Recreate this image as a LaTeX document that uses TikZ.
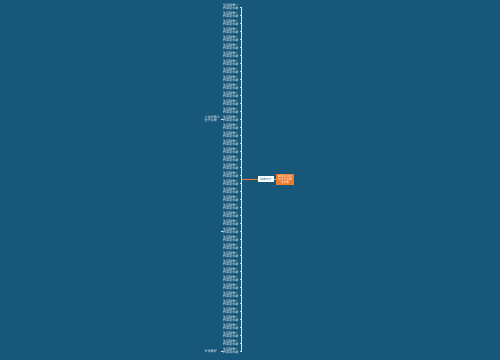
\documentclass[tikz,border=0pt]{standalone}
\usepackage{fontspec}
\newfontfamily\cjk{Noto Sans CJK SC}
\definecolor{bg}{HTML}{175779}
\definecolor{org}{HTML}{EE7B2C}
\definecolor{lineclr}{HTML}{D8E6EE}
\tikzset{
  leaf/.style={anchor=east,inner sep=0.3pt,text=white,font=\cjk\fontsize{3.1}{3.4}\selectfont,align=left,text width=16.5pt},
  subleaf/.style={anchor=east,inner sep=0.3pt,text=white,font=\cjk\fontsize{3.1}{3.4}\selectfont,align=left,text width=16pt},
  link/.style={draw=lineclr,line width=0.6pt},
  rootbox/.style={fill=org,text=white,font=\cjk\fontsize{2.8}{3.3}\selectfont,align=center,minimum width=18pt,minimum height=11pt,inner sep=0.5pt},
  trunkbox/.style={fill=white,text=bg,font=\cjk\fontsize{2.8}{3.2}\selectfont,align=center,minimum width=16pt,minimum height=6pt,inner sep=0.5pt}
}
\begin{document}
\begin{tikzpicture}[x=1pt,y=-1pt]
\fill[bg] (0,0) rectangle (500,360);
\useasboundingbox (0,0) rectangle (500,360);
\node[rootbox] (root) at (285,179.5) {描写生活的\\句子大全精\\选合集};
\node[trunkbox] (trunk) at (266,179) {经典句子};
\coordinate (hub) at (241.5,179);
\draw[draw=org,line width=0.8pt] (trunk.west) -- (hub);
\draw[draw=white,line width=0.5pt] (trunk.east) -- (root.west);
\foreach \i in {0,...,43}{
  \pgfmathsetmacro\yy{7+\i*8}
  \node[leaf] (l\i) at (240,\yy) {生活就像一\\杯茶苦中甜};
  \draw[link] (hub) |- (l\i.east);
}
\node[subleaf] (s1) at (221,119) {人生的意义\\在于过程};
\draw[link] (s1.east) -- (l14.west);
\node[subleaf] (s2) at (221,231) {~~~~};
\draw[link] (s2.east) -- (l28.west);
\node[subleaf] (s3) at (221,351) {岁月静好};
\draw[link] (s3.east) -- (l43.west);
\end{tikzpicture}
\end{document}
